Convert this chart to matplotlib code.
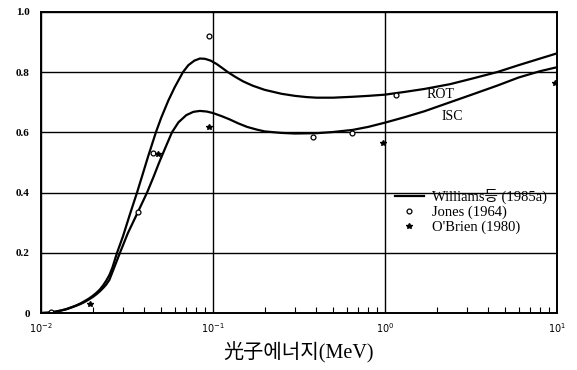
import numpy as np
import matplotlib.pyplot as plt
from matplotlib.ticker import LogLocator, NullFormatter

# 광자 에너지 (MeV) 와 곡선 값
rot_e = [0.010, 0.011, 0.012, 0.013, 0.014, 0.015, 0.016, 0.017, 0.018, 0.019,
         0.020, 0.021, 0.022, 0.023, 0.024, 0.025, 0.026, 0.0277, 0.030, 0.033,
         0.0362, 0.039, 0.042, 0.0466, 0.050, 0.055, 0.060, 0.067, 0.072, 0.078,
         0.084, 0.090, 0.097, 0.105, 0.113, 0.122, 0.135, 0.150, 0.170, 0.200,
         0.250, 0.300, 0.350, 0.400, 0.500, 0.650, 0.800, 1.00, 1.30, 1.70,
         2.40, 3.20, 4.50, 6.00, 8.00, 10.0]
rot_v = [0.000, 0.001, 0.004, 0.008, 0.013, 0.019, 0.025, 0.032, 0.040, 0.048,
         0.057, 0.067, 0.078, 0.092, 0.108, 0.126, 0.150, 0.200, 0.255, 0.330,
         0.400, 0.460, 0.520, 0.600, 0.648, 0.705, 0.750, 0.800, 0.823, 0.838,
         0.845, 0.844, 0.838, 0.827, 0.814, 0.800, 0.784, 0.769, 0.755, 0.741,
         0.728, 0.721, 0.717, 0.715, 0.715, 0.718, 0.721, 0.725, 0.734, 0.744,
         0.760, 0.778, 0.800, 0.823, 0.845, 0.862]

isc_e = [0.010, 0.011, 0.012, 0.013, 0.014, 0.015, 0.016, 0.017, 0.018, 0.019,
         0.020, 0.021, 0.022, 0.023, 0.024, 0.025, 0.026, 0.0288, 0.032, 0.0366,
         0.0414, 0.045, 0.0487, 0.053, 0.0578, 0.063, 0.070, 0.077, 0.084, 0.092,
         0.100, 0.112, 0.125, 0.140, 0.158, 0.180, 0.200, 0.250, 0.300, 0.400,
         0.500, 0.650, 0.800, 1.00, 1.30, 1.70, 2.40, 3.20, 4.50, 6.00,
         8.00, 10.0]
isc_v = [0.000, 0.001, 0.004, 0.008, 0.012, 0.018, 0.024, 0.030, 0.037, 0.045,
         0.053, 0.062, 0.072, 0.083, 0.095, 0.110, 0.135, 0.200, 0.265, 0.335,
         0.400, 0.450, 0.500, 0.550, 0.600, 0.633, 0.657, 0.668, 0.671, 0.669,
         0.664, 0.654, 0.643, 0.630, 0.618, 0.609, 0.603, 0.598, 0.596, 0.597,
         0.601, 0.608, 0.618, 0.632, 0.650, 0.670, 0.700, 0.725, 0.755, 0.782,
         0.803, 0.816]

jones_e = [0.0115, 0.0366, 0.045, 0.095, 0.38, 0.64, 1.16]
jones_v = [0.004, 0.335, 0.53, 0.92, 0.585, 0.598, 0.724]

obrien_e = [0.0193, 0.048, 0.095, 0.97, 9.8]
obrien_v = [0.03, 0.528, 0.618, 0.565, 0.764]

plt.rcParams['font.family'] = ['Liberation Serif', 'Noto Sans CJK KR']

fig = plt.figure(figsize=(5.77, 3.70), dpi=100)
ax = fig.add_axes([0.071, 0.154, 0.894, 0.814])

line, = ax.plot(rot_e, rot_v, color='black', lw=1.6)
ax.plot(isc_e, isc_v, color='black', lw=1.6)
jo, = ax.plot(jones_e, jones_v, 'o', ms=3.5, mfc='white', mec='black', mew=0.9, ls='none')
ob, = ax.plot(obrien_e, obrien_v, '*', ms=4, color='black', ls='none')

ax.set_xscale('log')
ax.set_xlim(0.01, 10)
ax.set_ylim(0, 1.0)

ax.set_xticks([0.01, 0.1, 1, 10])
ax.set_xticklabels([r'$10^{-2}$', r'$10^{-1}$', r'$10^{0}$', r'$10^{1}$'], fontsize=7)
ax.xaxis.set_minor_locator(LogLocator(base=10, subs=np.arange(2, 10)))
ax.xaxis.set_minor_formatter(NullFormatter())
ax.tick_params(axis='x', which='minor', direction='in', length=4, width=0.8, top=False)
ax.tick_params(axis='x', which='major', length=0, pad=6)

ax.set_yticks([0, 0.2, 0.4, 0.6, 0.8, 1.0])
ax.set_yticklabels(['0', '0.2', '0.4', '0.6', '0.8', '1.0'], fontsize=8, fontweight='bold')
ax.tick_params(axis='y', length=0, pad=8)

ax.grid(True, which='major', color='black', lw=1.0)
for s in ax.spines.values():
    s.set_linewidth(1.4)

ax.text(1.75, 0.724, 'ROT', fontsize=10, ha='left', va='center')
ax.text(2.15, 0.651, 'ISC', fontsize=10, ha='left', va='center')

ax.legend([line, jo, ob], ['Williams등 (1985a)', 'Jones (1964)', "O'Brien (1980)"],
          loc='upper left', bbox_to_anchor=(0.672, 0.435), frameon=False, fontsize=10.5,
          handlelength=2.0, handletextpad=0.55, labelspacing=0.1, borderpad=0)

ax.set_xlabel('光子에너지(MeV)', fontsize=14.5, labelpad=5)

fig.savefig('out.png', dpi=100)
